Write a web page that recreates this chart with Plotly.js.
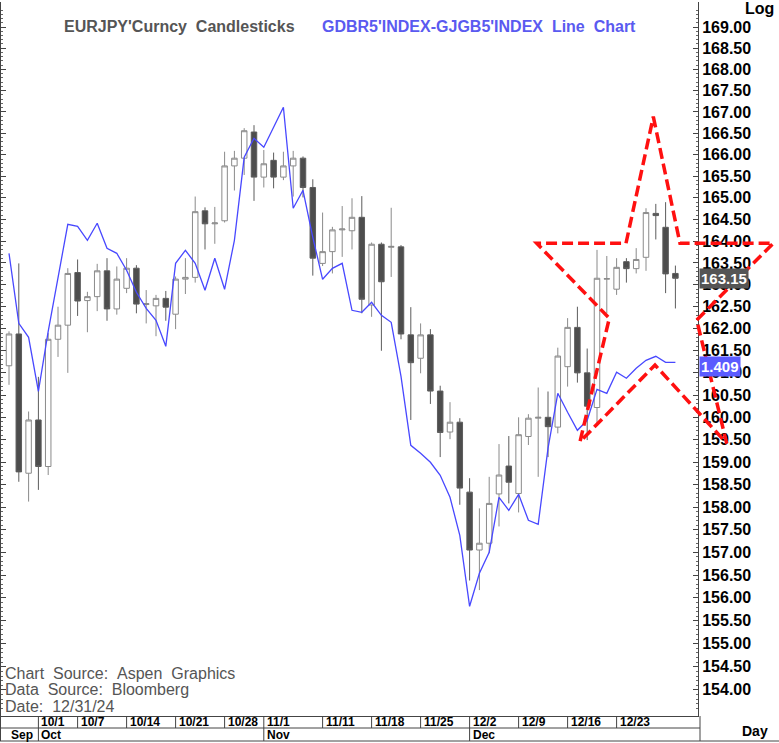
<!DOCTYPE html>
<html><head><meta charset="utf-8">
<script src="https://cdn.plot.ly/plotly-3.0.1.min.js"></script>
<style>html,body{margin:0;padding:0;background:#fff;}#chart{width:779px;height:743px;}</style>
</head><body><div id="chart"></div>
<script>
// ---------------- DATA ----------------
const dates = ['2024-09-26','2024-09-27','2024-09-30','2024-10-01','2024-10-02','2024-10-03','2024-10-04',
'2024-10-07','2024-10-08','2024-10-09','2024-10-10','2024-10-11','2024-10-14','2024-10-15','2024-10-16','2024-10-17','2024-10-18',
'2024-10-21','2024-10-22','2024-10-23','2024-10-24','2024-10-25','2024-10-28','2024-10-29','2024-10-30','2024-10-31','2024-11-01',
'2024-11-04','2024-11-05','2024-11-06','2024-11-07','2024-11-08','2024-11-11','2024-11-12','2024-11-13','2024-11-14','2024-11-15',
'2024-11-18','2024-11-19','2024-11-20','2024-11-21','2024-11-22','2024-11-25','2024-11-26','2024-11-27','2024-11-28','2024-11-29',
'2024-12-02','2024-12-03','2024-12-04','2024-12-05','2024-12-06','2024-12-09','2024-12-10','2024-12-11','2024-12-12','2024-12-13',
'2024-12-16','2024-12-17','2024-12-18','2024-12-19','2024-12-20','2024-12-23','2024-12-24','2024-12-25','2024-12-26','2024-12-27',
'2024-12-30','2024-12-31'];

const eurjpyOpen = [161.16,161.88,158.75,159.94,158.90,161.76,162.08,163.28,162.64,162.73,163.32,162.45,162.92,163.38,162.55,162.52,162.69,
162.33,163.13,163.17,164.70,164.40,164.47,165.74,165.92,166.53,165.48,165.87,165.48,165.74,165.92,165.24,163.49,163.76,164.26,164.24,
164.55,162.54,163.93,163.86,163.87,161.86,161.33,161.86,160.59,159.67,159.89,158.33,157.05,157.20,158.29,158.91,158.30,159.57,159.98,
160.00,159.78,161.14,162.03,161.00,160.22,163.13,162.90,163.53,163.37,163.63,164.64,164.32,163.26];
const eurjpyHigh = [161.94,163.49,160.13,160.91,161.90,162.50,163.38,163.58,162.84,163.48,163.61,163.42,163.61,163.45,162.88,162.77,162.86,
163.19,163.61,165.03,164.78,164.79,166.07,166.09,166.62,166.69,166.11,166.05,166.07,166.09,165.96,165.43,164.66,164.33,164.81,164.99,
165.04,163.97,163.97,164.77,163.91,162.49,162.12,161.99,160.71,160.34,159.98,158.64,157.97,158.67,159.40,159.58,160.00,160.07,160.67,
160.58,161.57,162.24,162.50,161.55,163.80,163.66,163.61,163.61,163.84,164.76,164.86,164.90,163.44];
const eurjpyLow = [160.73,158.56,158.12,158.38,158.71,161.36,161.00,162.29,161.92,162.40,162.18,162.32,162.81,162.35,162.12,161.83,162.18,
161.99,162.79,163.05,163.81,163.94,164.43,165.17,165.53,164.93,165.24,165.22,165.41,165.03,165.01,163.21,163.43,163.26,163.64,163.81,
162.35,162.27,161.50,163.18,161.76,159.94,160.99,160.30,159.11,159.51,158.05,156.38,156.17,156.98,157.57,158.08,157.88,159.38,158.67,
159.11,159.64,160.69,160.78,159.49,159.87,162.35,162.77,163.05,163.26,163.32,164.04,162.81,162.46];
const eurjpyClose = [161.88,158.78,159.94,158.90,161.76,162.08,163.26,162.63,162.73,163.32,162.45,163.13,163.38,162.56,162.57,162.69,162.49,
163.13,163.17,164.68,164.40,164.42,165.74,165.92,166.56,165.48,165.79,165.48,165.74,165.92,165.24,163.61,163.76,164.26,164.28,164.55,
162.67,163.93,163.07,163.88,161.88,161.23,161.86,160.59,159.66,159.89,158.42,157.05,157.20,158.08,158.71,158.55,159.61,159.98,160.00,
159.79,161.38,162.03,161.00,160.25,163.15,163.14,163.40,163.37,163.58,164.66,164.59,163.25,163.15];

// GDBR5 - GJGB5 spread
const spread = [1.518,1.448,1.434,1.380,1.440,1.494,1.547,1.545,1.531,1.548,1.523,1.518,1.501,1.479,1.463,1.451,1.425,
1.508,1.521,1.508,1.481,1.513,1.482,1.531,1.614,1.633,1.624,1.644,1.664,1.563,1.581,1.534,1.492,1.503,1.508,1.461,
1.459,1.469,1.456,1.449,1.395,1.326,1.318,1.309,1.296,1.274,1.236,1.165,1.198,1.219,1.274,1.261,1.277,1.251,1.247,
1.323,1.378,1.359,1.341,1.351,1.382,1.378,1.399,1.393,1.403,1.411,1.415,1.409,1.409];

const dayTickDates = ['2024-10-01','2024-10-07','2024-10-14','2024-10-21','2024-10-28','2024-11-01','2024-11-11','2024-11-18',
'2024-11-25','2024-12-02','2024-12-09','2024-12-16','2024-12-23'];
const dayTickText = ['10/1','10/7','10/14','10/21','10/28','11/1','11/11','11/18','11/25','12/2','12/9','12/16','12/23'];
const monthStartDates = ['2024-10-01','2024-11-01','2024-12-02'];
const monthText = ['Oct','Nov','Dec'];
const firstMonthText = 'Sep';
const priceTicks = [154,154.5,155,155.5,156,156.5,157,157.5,158,158.5,159,159.5,160,160.5,161,161.5,162,162.5,
163,163.5,164,164.5,165,165.5,166,166.5,167,167.5,168,168.5,169];

const title1 = "EURJPY'Curncy\u00a0\u00a0Candlesticks";
const title2 = "GDBR5'INDEX-GJGB5'INDEX\u00a0\u00a0Line\u00a0\u00a0Chart";
const footLines = ["Chart\u00a0\u00a0Source:\u00a0\u00a0Aspen\u00a0\u00a0Graphics","Data\u00a0\u00a0Source:\u00a0\u00a0Bloomberg","Date:\u00a0\u00a012/31/24"];

// ---------------- GEOMETRY ----------------
const W = 779, H = 743;
const L = 1, R = 698, T = 2, B = 716;
const x0Pix = 9, dayPix = 9.8;
const idx = dates.map((d,i)=>i);
const xr = [(L - x0Pix)/dayPix, (R - x0Pix)/dayPix];
const yLogTop = Math.log10(169) + (27 - T)/16422;
const yLogBot = Math.log10(169) - (B - 27)/16422;
const s0 = spread[spread.length-1], sPix = 362.3, sScale = 1000;
const y2r = [s0 - (B - sPix)/sScale, s0 + (sPix - T)/sScale];
const px = p => (p - L)/(R - L);
const py = p => (B - p)/(B - T);
const FONT = 'Arial, "Liberation Sans", sans-serif';

const minorTicks = [];
for (let v = 1536; v <= 1694; v++) { if (v % 5 !== 0) minorTicks.push(v/10); }

// ---------------- TRACES ----------------
const candles = {
  type:'candlestick', x: idx, open: eurjpyOpen, high: eurjpyHigh, low: eurjpyLow, close: eurjpyClose,
  increasing:{line:{color:'#8a8a8a', width:1}, fillcolor:'#ffffff'},
  decreasing:{line:{color:'#5c5c5c', width:1}, fillcolor:'#4d4d4d'},
  whiskerwidth:0, hoverinfo:'skip', showlegend:false
};
const line = {
  type:'scatter', mode:'lines', x: idx, y: spread, yaxis:'y2',
  line:{color:'#4848ff', width:1.3}, hoverinfo:'skip', showlegend:false
};

// ---------------- SHAPES & ANNOTATIONS ----------------
const shapes = [];
const annotations = [];
// bottom date box rows
shapes.push({type:'line', xref:'paper', yref:'paper', x0:px(0), x1:px(700), y0:py(728), y1:py(728), line:{color:'#444', width:1}});
shapes.push({type:'line', xref:'paper', yref:'paper', x0:px(0), x1:px(779), y0:py(741), y1:py(741), line:{color:'#444', width:1}});
shapes.push({type:'line', xref:'paper', yref:'paper', x0:px(700), x1:px(700), y0:py(716), y1:py(741), line:{color:'#444', width:1}});
shapes.push({type:'line', xref:'paper', yref:'paper', x0:px(0.5), x1:px(0.5), y0:py(716), y1:py(741), line:{color:'#444', width:1}});
dayTickDates.forEach((d,k)=>{
  const i = dates.indexOf(d);
  shapes.push({type:'line', xref:'x', yref:'paper', x0:i, x1:i, y0:py(716), y1:py(728), line:{color:'#444', width:1}});
  annotations.push({xref:'x', yref:'paper', x:i, y:py(722), xanchor:'left', yanchor:'middle', xshift:1, showarrow:false,
    text:dayTickText[k], font:{family:FONT, size:12, color:'#000', weight:'bold'}});
});
monthStartDates.forEach((d,k)=>{
  const i = dates.indexOf(d);
  shapes.push({type:'line', xref:'x', yref:'paper', x0:i, x1:i, y0:py(728), y1:py(741), line:{color:'#444', width:1}});
  annotations.push({xref:'x', yref:'paper', x:i, y:py(735), xanchor:'left', yanchor:'middle', xshift:1, showarrow:false,
    text:monthText[k], font:{family:FONT, size:12, color:'#000', weight:'bold'}});
});
annotations.push({xref:'x', yref:'paper', x:0, y:py(735), xanchor:'left', yanchor:'middle', xshift:0, showarrow:false,
  text:firstMonthText, font:{family:FONT, size:12, color:'#000', weight:'bold'}});

// star drawing (pixel vertices)
const starPix = [[653.3,116.7],[680,243.3],[773.3,243.3],[696.7,320],[726.7,443.3],[655,365],[580,441.7],[609.3,318.3],[536.7,243.3],[626,243.3]];
const starPath = starPix.map((p,k)=>(k?'L':'M') + px(p[0]).toFixed(5) + ',' + py(p[1]).toFixed(5)).join(' ') + ' Z';
shapes.push({type:'path', xref:'paper', yref:'paper', path:starPath, line:{color:'#ff1010', width:3.5, dash:'11px,5px'}, layer:'above'});

// titles
annotations.push({xref:'paper', yref:'paper', x:px(62), y:py(27), xanchor:'left', yanchor:'middle', showarrow:false,
  text:title1, font:{family:FONT, size:16, color:'#555555', weight:'bold'}});
annotations.push({xref:'paper', yref:'paper', x:px(320), y:py(27), xanchor:'left', yanchor:'middle', showarrow:false,
  text:title2, font:{family:FONT, size:16, color:'#5a5af0', weight:'bold'}});
// footer source lines
footLines.forEach((t,k)=>{
  annotations.push({xref:'paper', yref:'paper', x:px(3), y:py(673 + 16.5*k), xanchor:'left', yanchor:'middle', showarrow:false,
    text:t, font:{family:FONT, size:16, color:'#555555'}});
});
// Log / Day
annotations.push({xref:'paper', yref:'paper', x:px(776), y:py(9), xanchor:'right', yanchor:'middle', showarrow:false,
  text:'Log', font:{family:FONT, size:16, color:'#000', weight:'bold'}});
annotations.push({xref:'paper', yref:'paper', x:px(770), y:py(731), xanchor:'right', yanchor:'middle', showarrow:false,
  text:'Day', font:{family:FONT, size:14, color:'#000', weight:'bold'}});
// last value labels
const lastClose = eurjpyClose[eurjpyClose.length-1];
annotations.push({xref:'paper', yref:'y', x:1, y:Math.log10(lastClose), xanchor:'left', yanchor:'middle', xshift:1, showarrow:false,
  text:lastClose.toFixed(2), bgcolor:'#555555', borderpad:1, font:{family:FONT, size:15, color:'#ffffff', weight:'bold'}});
annotations.push({xref:'paper', yref:'y2', x:1, y:s0, xanchor:'left', yanchor:'middle', xshift:1, yshift:-4, showarrow:false,
  text:s0.toFixed(3), bgcolor:'#5b5bff', borderpad:1, font:{family:FONT, size:15, color:'#ffffff', weight:'bold'}});

// ---------------- LAYOUT ----------------
const layout = {
  width:W, height:H,
  margin:{l:L, r:W-R, t:T, b:H-B, pad:0},
  paper_bgcolor:'#ffffff', plot_bgcolor:'#ffffff',
  showlegend:false,
  boxgap:0.2,
  xaxis:{range:xr, showticklabels:false, ticks:'', showline:true, linecolor:'#444', linewidth:1,
    showgrid:false, zeroline:false, rangeslider:{visible:false}, fixedrange:true},
  yaxis:{type:'log', range:[yLogBot, yLogTop], side:'right', tickmode:'array', tickvals:priceTicks,
    ticktext:priceTicks.map(v=>v.toFixed(2)), tickfont:{family:FONT, size:16, color:'#000', weight:'bold'},
    ticks:'inside', ticklen:5, tickcolor:'#444', showline:true, linecolor:'#444', linewidth:1, mirror:'allticks',
    showgrid:false, zeroline:false, fixedrange:true,
    minor:{tickmode:'array', tickvals:minorTicks, ticks:'inside', ticklen:2, tickcolor:'#666', showgrid:false}},
  yaxis2:{overlaying:'y', range:y2r, visible:false, fixedrange:true},
  shapes:shapes, annotations:annotations,
  font:{family:FONT}
};

Plotly.newPlot('chart', [candles, line], layout, {displayModeBar:false, staticPlot:true});
</script>
</body></html>
